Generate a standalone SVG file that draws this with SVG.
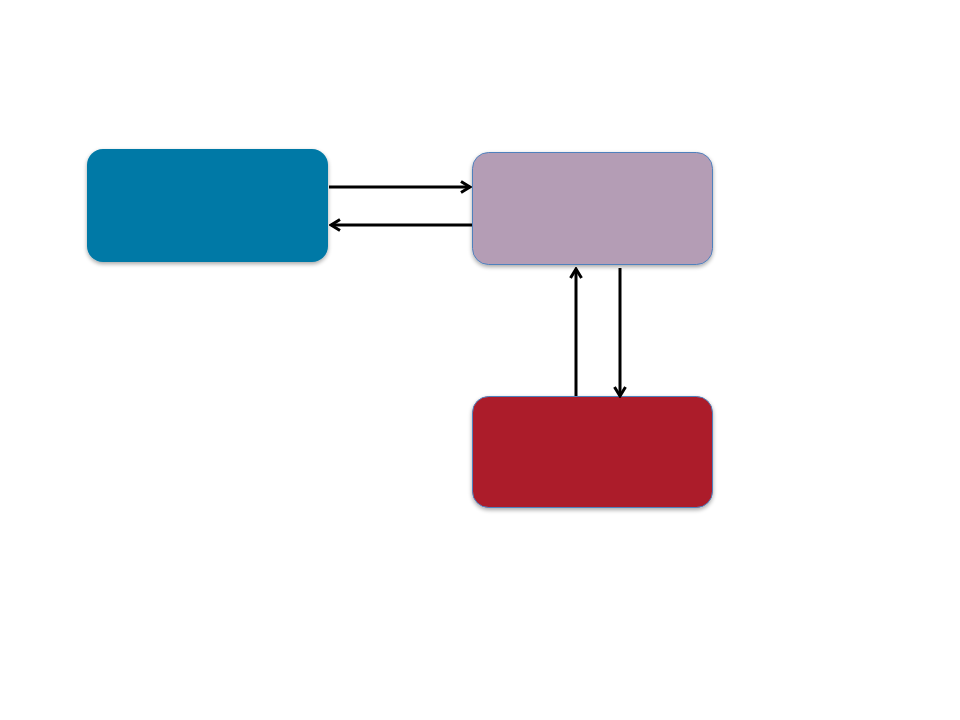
<svg xmlns="http://www.w3.org/2000/svg" width="960" height="720" viewBox="0 0 960 720">
<defs>
<filter id="sh" x="-10%" y="-10%" width="120%" height="130%">
<feGaussianBlur in="SourceAlpha" stdDeviation="2"/>
<feOffset dx="0" dy="2" result="b"/>
<feComponentTransfer><feFuncA type="linear" slope="0.35"/></feComponentTransfer>
<feMerge><feMergeNode/><feMergeNode in="SourceGraphic"/></feMerge>
</filter>
<marker id="ah" viewBox="0 0 14 14" refX="12" refY="7" markerWidth="14" markerHeight="14" markerUnits="userSpaceOnUse" orient="auto">
<path d="M3,1.5 L12,7 L3,12.5" fill="none" stroke="#000" stroke-width="3"/>
</marker>
<style>
.node{filter:url(#sh);}
.conn{stroke:#000;stroke-width:3;fill:none;marker-end:url(#ah);}
</style>
</defs>
<rect width="960" height="720" fill="#fff"/>
<g id="node-blue" class="node">
<rect x="87" y="149" width="241" height="113" rx="16" fill="#0079A6"/>
</g>
<g id="node-purple" class="node">
<rect x="472.5" y="152.5" width="240" height="112" rx="16" fill="#B49DB5" stroke="#4F81BD" stroke-width="1"/>
</g>
<g id="node-red" class="node">
<rect x="472.5" y="396.5" width="240" height="111" rx="16" fill="#AC1F2B" stroke="#4F81BD" stroke-width="1"/>
</g>
<g id="connectors">
<line class="conn" x1="329" y1="187" x2="470" y2="187"/>
<line class="conn" x1="472" y1="225" x2="331" y2="225"/>
<line class="conn" x1="576" y1="396" x2="576" y2="269"/>
<line class="conn" x1="620" y1="268" x2="620" y2="396"/>
</g>
</svg>
